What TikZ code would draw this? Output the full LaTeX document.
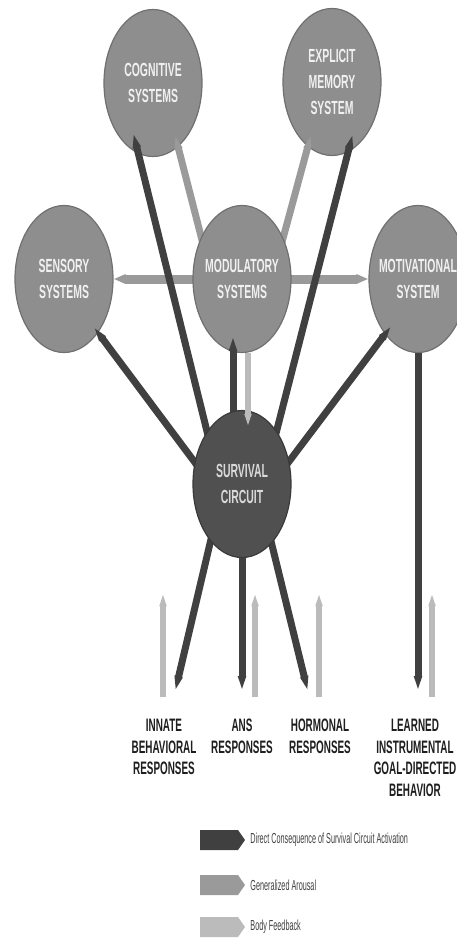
\documentclass[tikz,border=0pt]{standalone}
\usepackage{fontspec}
\usepackage{tikz}
\usetikzlibrary{shapes.geometric,shapes.arrows,arrows.meta,positioning}

\newfontfamily\narrowfont{Liberation Sans}[FakeStretch=0.55]
\newfontfamily\keyfont{Liberation Sans}[FakeStretch=0.5]

\definecolor{circgray}{HTML}{8E8E8E}
\definecolor{circrim}{HTML}{707070}
\definecolor{survgray}{HTML}{505050}
\definecolor{survrim}{HTML}{3A3A3A}
\definecolor{dcgray}{HTML}{404040}
\definecolor{gagray}{HTML}{9A9A9A}
\definecolor{fbgray}{HTML}{BBBBBB}
\definecolor{labgray}{HTML}{1E1E1E}

\begin{document}
\begin{tikzpicture}[x=1pt, y=-1pt,
    circ/.style={ellipse, draw=circrim, line width=1.2pt, fill=circgray, inner sep=0pt, minimum width=98pt, minimum height=147pt},
    circtxt/.style={font=\narrowfont\bfseries\fontsize{19}{26}\selectfont, text=white!94!black, align=center, inner sep=0pt},
    dcarr/.style={draw=dcgray, line width=7pt, -{Triangle[length=16pt, width=0pt 1]}},
    gaarr/.style={draw=gagray, line width=7pt, -{Triangle[length=14pt, width=0pt 1]}},
    fbarr/.style={draw=fbgray, line width=6pt, -{Triangle[length=14pt, width=0pt 1]}},
    outlab/.style={font=\narrowfont\bfseries\fontsize{18}{21.5}\selectfont, text=labgray, align=center, inner sep=0pt, anchor=north},
    key/.style={single arrow, single arrow head extend=0pt, single arrow tip angle=110, minimum height=45pt, minimum width=20pt, inner sep=0pt},
    keytxt/.style={font=\keyfont\fontsize{14.5}{16}\selectfont, text=labgray!85, inner sep=0pt}]
    \useasboundingbox (0,0) rectangle (456,938);
    \fill[white] (0,0) rectangle (456,938);

    % systems around the circuit
    \node[circ, label={[circtxt]center:COGNITIVE\\SYSTEMS}] (cog) at (153,83) {};
    \node[circ, label={[circtxt]center:EXPLICIT\\MEMORY\\SYSTEM}] (mem) at (332,82) {};
    \node[circ, label={[circtxt]center:SENSORY\\SYSTEMS}] (sens) at (64,279) {};
    \node[circ, label={[circtxt]center:MOTIVATIONAL\\SYSTEM}] (motiv) at (418,279) {};

    \coordinate (modc) at (242,279);
    \coordinate (survc) at (242,484);

    % generalized arousal
    \coordinate (gacog) at (175,135);
    \coordinate (gamem) at (311,135);
    \draw[gaarr] ([xshift=-30pt]modc) -- (gacog);
    \draw[gaarr] ([xshift=30pt]modc) -- (gamem);
    \draw[gaarr, line width=9pt, {Triangle[length=12pt, width=0pt 1]}-{Triangle[length=12pt, width=0pt 1]}] (sens) -- (motiv);

    \node[circ, label={[circtxt]center:MODULATORY\\SYSTEMS}] (mod) at (modc) {};

    % direct consequences
    \coordinate (dcog) at (133,132);
    \coordinate (dmem) at (353,133);
    \coordinate (dsens) at (93,326);
    \coordinate (dmotiv) at (392,325);
    \coordinate (dmod) at (233,335);
    \coordinate (dinnate) at (175,692);
    \coordinate (dans) at (242,692);
    \coordinate (dhorm) at (308,692);
    \coordinate (dlearn) at (418,692);

    \draw[dcarr] ([xshift=-22pt]survc) -- (dcog);
    \draw[dcarr] ([xshift=21pt]survc) -- (dmem);
    \draw[dcarr] ([xshift=-31pt]survc) -- (dsens);
    \draw[dcarr] ([xshift=30pt]survc) -- (dmotiv);
    \draw[dcarr] ([xshift=-9pt]survc) -- (dmod);
    \draw[dcarr] ([xshift=-18pt]survc) -- (dinnate);
    \draw[dcarr] (survc) -- (dans);
    \draw[dcarr] ([xshift=15pt]survc) -- (dhorm);
    \draw[dcarr] (motiv.south) -- (dlearn);

    \node[circ, fill=survgray, draw=survrim, label={[circtxt, text=white!85!black]center:SURVIVAL\\CIRCUIT}] (surv) at (survc) {};

    % body feedback
    \coordinate (fbsurv) at (248,428);
    \draw[fbarr] ([xshift=6pt]mod.south) -- (fbsurv);
    \foreach \x/\n in {163/1, 255/2, 319/3, 432/4} {
      \coordinate (fb\n) at (\x,697);
      \draw[fbarr] (fb\n) -- ++(0,-105);
    }

    % responses
    \node[outlab] (innate) at (164,719) {INNATE\\BEHAVIORAL\\RESPONSES};
    \node[outlab] (ans) at (242,719) {ANS\\RESPONSES};
    \node[outlab] (horm) at (320,719) {HORMONAL\\RESPONSES};
    \node[outlab] (learn) at (415,719) {LEARNED\\INSTRUMENTAL\\GOAL-DIRECTED\\BEHAVIOR};

    % key
    \node[key, fill=dcgray] (kdc) at (219,840) {};
    \node[key, fill=gagray] (kga) at (219,885) {};
    \node[key, fill=fbgray] (kfb) at (219,927) {};
    \node[keytxt, right=5pt of kdc] (kdctxt) {Direct Consequence of Survival Circuit Activation};
    \node[keytxt, right=5pt of kga] (kgatxt) {Generalized Arousal};
    \node[keytxt, right=5pt of kfb] (kfbtxt) {Body Feedback};
\end{tikzpicture}
\end{document}
